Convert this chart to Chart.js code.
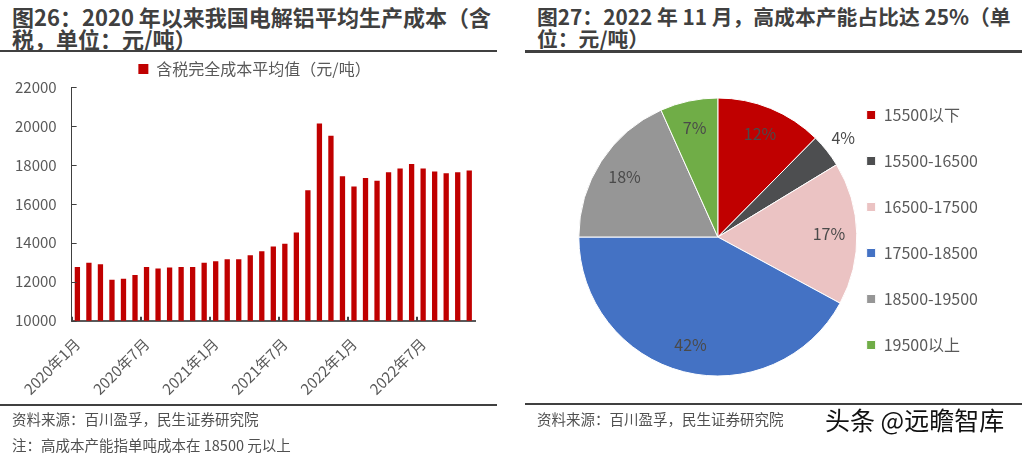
<!DOCTYPE html>
<html>
<head>
<meta charset="utf-8">
<script src="https://cdn.jsdelivr.net/npm/chart.js@4"></script>
<style>
    body { margin: 0; width: 1027px; height: 453px; background: #fff; position: relative; overflow: hidden; font-family: "Noto Sans CJK SC", sans-serif; }
    .title { position: absolute; font-weight: bold; font-size: 22px; line-height: 22px; color: #404040; white-space: nowrap; }
    .rule { position: absolute; background: #404040; }
    .note { position: absolute; font-size: 14.5px; line-height: 18px; color: #505050; white-space: nowrap; }
    .box { position: absolute; }
</style>
</head>
<body>
<div class="title" style="left:12px; top:5px;">图26：2020 年以来我国电解铝平均生产成本（含<br>税，单位：元/吨）</div>
<div class="rule" style="left:0; top:50px; width:497px; height:1.5px;"></div>
<div class="box" style="left:0; top:55px; width:500px; height:357px;"><canvas id="costChart"></canvas></div>
<div class="rule" style="left:0; top:404px; width:497px; height:1.5px;"></div>
<div class="note" style="left:12px; top:410px;">资料来源：百川盈孚，民生证券研究院</div>
<div class="note" style="left:12px; top:436px;">注：高成本产能指单吨成本在 18500 元以上</div>

<div class="title" style="left:537px; top:5px; font-size:20.8px;">图27：2022 年 11 月，高成本产能占比达 25%（单<br>位：元/吨）</div>
<div class="rule" style="left:525px; top:50px; width:497px; height:2.5px;"></div>
<div class="box" style="left:525px; top:55px; width:497px; height:345px;"><canvas id="shareChart"></canvas></div>
<div class="rule" style="left:525px; top:403px; width:497px; height:2px;"></div>
<div class="note" style="left:537px; top:410px;">资料来源：百川盈孚，民生证券研究院</div>
<div class="note" style="left:825px; top:404px; font-size:25px; line-height:30px; color:#111;">头条 @远瞻智库</div>

<script>
// monthly cost, 2020-01 .. 2022-11
const months = [
    '2020年1月', '2020年2月', '2020年3月', '2020年4月', '2020年5月', '2020年6月',
    '2020年7月', '2020年8月', '2020年9月', '2020年10月', '2020年11月', '2020年12月',
    '2021年1月', '2021年2月', '2021年3月', '2021年4月', '2021年5月', '2021年6月',
    '2021年7月', '2021年8月', '2021年9月', '2021年10月', '2021年11月', '2021年12月',
    '2022年1月', '2022年2月', '2022年3月', '2022年4月', '2022年5月', '2022年6月',
    '2022年7月', '2022年8月', '2022年9月', '2022年10月', '2022年11月'
];
const costValues = [
    12760, 12970, 12900, 12100, 12150, 12340, 12760, 12680, 12730, 12760, 12760, 12970,
    13050, 13150, 13150, 13360, 13560, 13810, 13950, 14530, 16700, 20120, 19500, 17420,
    16890, 17320, 17180, 17620, 17810, 18050, 17810, 17660, 17570, 17620, 17710
];
const costSeriesName = '含税完全成本平均值（元/吨）';
const yMin = 10000;
const yMax = 22000;
const yStep = 2000;
const labelEvery = 6;

// capacity share by cost band, Nov 2022 (%)
const bandLabels = ['15500以下', '15500-16500', '16500-17500', '17500-18500', '18500-19500', '19500以上'];
const bandShares = [12.4, 3.9, 16.6, 42.1, 18.3, 6.7];
const bandColors = ['#C00000', '#4D4E50', '#EBC3C3', '#4472C4', '#969696', '#70AD47'];

const textColor = '#595959';
const fontFamily = '"Noto Sans CJK SC", sans-serif';

// short tick marks drawn inward from the axes
const innerTicks = {
    id: 'innerTicks',
    afterLayout(chart) {
        // the legend in the source sits a bit right of the plot centre
        chart.legend.left += 17;
        chart.legend.right += 17;
    },
    afterDraw(chart) {
        let ctx = chart.ctx;
        let area = chart.chartArea;
        let x = chart.scales.x;
        let y = chart.scales.y;
        ctx.save();
        ctx.strokeStyle = '#404040';
        ctx.lineWidth = 1;
        y.ticks.forEach((t, i) => {
            let py = Math.round(y.getPixelForTick(i)) + 0.5;
            ctx.beginPath();
            ctx.moveTo(area.left, py);
            ctx.lineTo(area.left + 5, py);
            ctx.stroke();
        });
        let half = (x.getPixelForTick(1) - x.getPixelForTick(0)) / 2;
        ctx.lineWidth = 2;
        for (let i = 0; i < months.length; i += labelEvery) {
            let px = Math.round(x.getPixelForTick(i) - half);
            ctx.beginPath();
            ctx.moveTo(px, area.bottom);
            ctx.lineTo(px, area.bottom - 4);
            ctx.stroke();
        }
        ctx.restore();
    }
};

// percentage labels on the pie
const sliceLabels = {
    id: 'sliceLabels',
    afterDatasetsDraw(chart) {
        let ctx = chart.ctx;
        let meta = chart.getDatasetMeta(0);
        ctx.save();
        ctx.fillStyle = '#4a4a4a';
        ctx.font = '16px ' + fontFamily;
        ctx.textAlign = 'center';
        ctx.textBaseline = 'middle';
        meta.data.forEach((arc, i) => {
            let p = arc.getProps(['x', 'y', 'startAngle', 'endAngle', 'outerRadius'], true);
            let mid = (p.startAngle + p.endAngle) / 2;
            let r = p.outerRadius * (bandShares[i] < 5 ? 1.15 : 0.8);
            ctx.fillText(Math.round(bandShares[i]) + '%', p.x + Math.cos(mid) * r, p.y + Math.sin(mid) * r);
        });
        ctx.restore();
    }
};

new Chart(document.getElementById('costChart'), {
    type: 'bar',
    data: {
        labels: months,
        datasets: [
            {
                label: costSeriesName,
                data: costValues,
                backgroundColor: '#C00000',
                barPercentage: 0.46,
                categoryPercentage: 1
            }
        ]
    },
    options: {
        responsive: true,
        maintainAspectRatio: false,
        animation: false,
        layout: {
            padding: { left: 0, right: 25, top: 0, bottom: 0 }
        },
        plugins: {
            legend: {
                position: 'top',
                labels: {
                    boxWidth: 10,
                    boxHeight: 10,
                    padding: 6,
                    color: textColor,
                    font: { size: 16, family: fontFamily }
                }
            },
            tooltip: { enabled: false }
        },
        scales: {
            x: {
                grid: { display: false, drawTicks: false },
                border: { color: '#595959', width: 2 },
                ticks: {
                    autoSkip: false,
                    maxRotation: 45,
                    minRotation: 45,
                    padding: 14,
                    color: textColor,
                    font: { size: 15, family: fontFamily },
                    callback: function (value, index) {
                        return index % labelEvery === 0 ? months[index] : '';
                    }
                }
            },
            y: {
                min: yMin,
                max: yMax,
                grid: { display: false, drawTicks: false },
                border: { color: '#404040', width: 1 },
                ticks: {
                    stepSize: yStep,
                    padding: 15,
                    color: textColor,
                    font: { size: 15, family: fontFamily },
                    callback: function (value) {
                        return String(value);
                    }
                }
            }
        }
    },
    plugins: [innerTicks]
});

new Chart(document.getElementById('shareChart'), {
    type: 'pie',
    data: {
        labels: bandLabels,
        datasets: [
            {
                data: bandShares,
                backgroundColor: bandColors,
                borderColor: '#ffffff',
                borderWidth: 1,
                radius: 139
            }
        ]
    },
    options: {
        responsive: true,
        maintainAspectRatio: false,
        animation: false,
        layout: {
            padding: { left: 74, right: 34, top: 22, bottom: 3 }
        },
        plugins: {
            legend: {
                position: 'right',
                align: 'start',
                labels: {
                    boxWidth: 9,
                    boxHeight: 9,
                    padding: 30,
                    color: textColor,
                    font: { size: 16, family: fontFamily }
                }
            },
            tooltip: { enabled: false }
        }
    },
    plugins: [sliceLabels]
});
</script>
</body>
</html>
